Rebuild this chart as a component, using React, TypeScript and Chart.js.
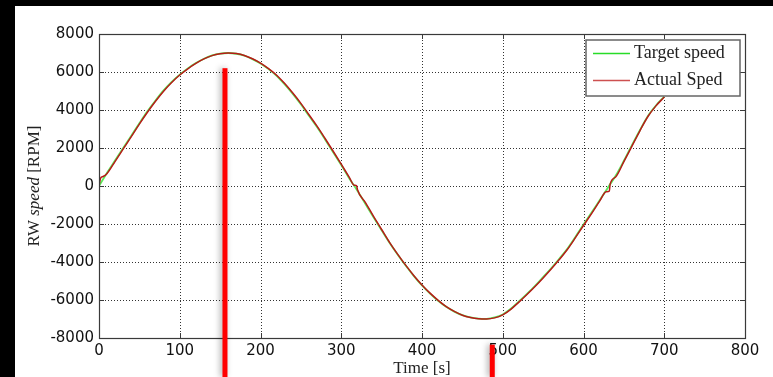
import React, { useEffect, useRef } from "react";
import { Chart, registerables } from "chart.js";

Chart.register(...registerables);

// ---- data ----
const targetTime = [
  0, 10, 20, 30, 40, 50, 60, 70, 80, 90, 100, 110, 120, 130, 140, 150, 160, 170, 180, 190,
  200, 210, 220, 230, 240, 250, 260, 270, 280, 290, 300, 310, 320, 330, 340, 350, 360, 370,
  380, 390, 400, 410, 420, 430, 440, 450, 460, 470, 480, 490, 500, 510, 520, 530, 540, 550,
  560, 570, 580, 590, 600, 610, 620, 630, 640, 650, 660, 670, 680, 690, 700,
];
const targetSpeed = [
  0, 700, 1350, 2000, 2650, 3300, 3930, 4500, 5030, 5480, 5860, 6190, 6470, 6700, 6870, 6970,
  7000, 6960, 6860, 6680, 6450, 6150, 5800, 5350, 4850, 4300, 3700, 3100, 2450, 1780, 1100,
  400, -250, -950, -1650, -2330, -3000, -3620, -4200, -4740, -5230, -5660, -6040, -6360,
  -6610, -6800, -6920, -6980, -6990, -6920, -6760, -6460, -6080, -5680, -5260, -4800, -4330,
  -3830, -3300, -2680, -2030, -1400, -750, -100, 550, 1330, 2150, 2950, 3700, 4250, 4700,
];

const actualTime = [
  0, 2, 5, 10, 20, 30, 40, 50, 60, 70, 80, 90, 100, 110, 120, 130, 140, 150, 160, 170, 180,
  190, 200, 210, 220, 230, 240, 250, 260, 270, 280, 290, 300, 310, 316, 319, 320, 330, 340,
  350, 360, 370, 380, 390, 400, 410, 420, 430, 440, 450, 460, 470, 480, 490, 500, 510, 520,
  530, 540, 550, 560, 570, 580, 590, 600, 610, 620, 628, 632, 633, 640, 650, 660, 670, 680,
  690, 700,
];
const actualSpeed = [
  0, 420, 500, 660, 1300, 1950, 2600, 3260, 3880, 4460, 4990, 5450, 5840, 6170, 6450, 6690,
  6860, 6960, 7000, 6970, 6870, 6700, 6470, 6180, 5830, 5390, 4890, 4350, 3750, 3150, 2500,
  1830, 1150, 450, 40, 20, -180, -870, -1600, -2290, -2980, -3600, -4180, -4720, -5210,
  -5640, -6020, -6350, -6600, -6800, -6920, -6985, -7000, -6940, -6780, -6490, -6110,
  -5710, -5290, -4840, -4370, -3870, -3340, -2720, -2080, -1450, -800, -300, -270, 100, 480,
  1280, 2100, 2920, 3670, 4230, 4680,
];

const markerTime = [156, 487];
const markerTop = [6200, -8350];

const legendLabels = ["Target speed", "Actual Sped"];
const xTitle = "Time [s]";
const yTitleParts: [string, boolean][] = [
  ["RW ", false],
  ["speed", true],
  [" [RPM]", false],
];

const GREEN = "rgb(90,235,90)";
const RED = "rgb(185,25,25)";

const decor = {
  id: "decor",
  beforeDraw(chart: any) {
    const { ctx, width, height } = chart;
    ctx.save();
    ctx.fillStyle = "#ffffff";
    ctx.fillRect(0, 0, width, height);
    ctx.restore();
  },
  beforeDatasetsDraw(chart: any) {
    const { ctx, chartArea: a, scales } = chart;
    const x = scales.x;
    const y = scales.y;
    ctx.save();
    ctx.lineWidth = 1;
    ctx.strokeStyle = "#333";
    ctx.setLineDash([1, 2]);
    x.ticks.forEach((t: any) => {
      const px = Math.round(x.getPixelForValue(t.value)) + 0.5;
      if (px <= a.left + 1 || px >= a.right - 1) return;
      ctx.beginPath();
      ctx.moveTo(px, a.top);
      ctx.lineTo(px, a.bottom);
      ctx.stroke();
    });
    y.ticks.forEach((t: any) => {
      const py = Math.round(y.getPixelForValue(t.value)) + 0.5;
      if (py <= a.top + 1 || py >= a.bottom - 1) return;
      ctx.beginPath();
      ctx.moveTo(a.left, py);
      ctx.lineTo(a.right, py);
      ctx.stroke();
    });
    ctx.restore();
  },
  afterDraw(chart: any) {
    const { ctx, chartArea: a, scales, height } = chart;
    const x = scales.x;
    const y = scales.y;
    ctx.save();
    // box
    ctx.setLineDash([]);
    ctx.strokeStyle = "#3a3a3a";
    ctx.lineWidth = 1.2;
    ctx.strokeRect(a.left + 0.5, a.top + 0.5, a.right - a.left, a.bottom - a.top);
    // inward tick marks
    ctx.lineWidth = 1;
    const tl = 5;
    x.ticks.forEach((t: any) => {
      const px = Math.round(x.getPixelForValue(t.value)) + 0.5;
      ctx.beginPath();
      ctx.moveTo(px, a.bottom);
      ctx.lineTo(px, a.bottom - tl);
      ctx.moveTo(px, a.top);
      ctx.lineTo(px, a.top + tl);
      ctx.stroke();
    });
    y.ticks.forEach((t: any) => {
      const py = Math.round(y.getPixelForValue(t.value)) + 0.5;
      ctx.beginPath();
      ctx.moveTo(a.left, py);
      ctx.lineTo(a.left + tl, py);
      ctx.moveTo(a.right, py);
      ctx.lineTo(a.right - tl, py);
      ctx.stroke();
    });

    // legend
    const lx = a.right - 159;
    const ly = a.top + 6;
    const lw = 154;
    const lh = 56;
    ctx.fillStyle = "#fff";
    ctx.fillRect(lx, ly, lw, lh);
    ctx.strokeStyle = "#666";
    ctx.lineWidth = 1.5;
    ctx.strokeRect(lx, ly, lw, lh);
    ctx.font = "18px 'Liberation Serif'";
    ctx.textBaseline = "middle";
    ctx.textAlign = "left";
    legendLabels.forEach((lab, i) => {
      const cy = ly + 13 + i * 27;
      ctx.strokeStyle = i === 0 ? "rgb(40,220,40)" : "rgb(205,80,80)";
      ctx.lineWidth = 1.3;
      ctx.beginPath();
      ctx.moveTo(lx + 7, cy + 0.5);
      ctx.lineTo(lx + 44, cy + 0.5);
      ctx.stroke();
      ctx.fillStyle = "#222";
      ctx.fillText(lab, lx + 48, cy);
    });

    // x title
    ctx.font = "17px 'Liberation Serif'";
    ctx.fillStyle = "#222";
    ctx.textAlign = "center";
    ctx.textBaseline = "middle";
    ctx.fillText(xTitle, (a.left + a.right) / 2, a.bottom + 31);

    // y title (rotated, mixed style)
    ctx.save();
    ctx.translate(20, (a.top + a.bottom) / 2);
    ctx.rotate(-Math.PI / 2);
    const fonts = yTitleParts.map(([, it]) =>
      (it ? "italic " : "") + "17px 'Liberation Serif'"
    );
    let total = 0;
    const widths = yTitleParts.map(([s], i) => {
      ctx.font = fonts[i];
      const w = ctx.measureText(s).width;
      total += w;
      return w;
    });
    let cx = -total / 2;
    ctx.textAlign = "left";
    yTitleParts.forEach(([s], i) => {
      ctx.font = fonts[i];
      ctx.fillText(s, cx, 0);
      cx += widths[i];
    });
    ctx.restore();

    // red marker bars
    ctx.fillStyle = "#ff0000";
    ctx.shadowColor = "rgba(0,0,0,0.35)";
    ctx.shadowBlur = 6;
    ctx.shadowOffsetX = -2;
    markerTime.forEach((t, i) => {
      const px = x.getPixelForValue(t);
      const top = y.getPixelForValue(markerTop[i]);
      ctx.fillRect(px - 2.5, top, 5, height - top);
    });
    ctx.restore();
  },
};

export default function App() {
  const ref = useRef<HTMLCanvasElement | null>(null);

  useEffect(() => {
    if (!ref.current) return;
    const chart = new Chart(ref.current, {
      type: "line",
      data: {
        datasets: [
          {
            label: legendLabels[0],
            data: targetTime.map((t, i) => ({ x: t, y: targetSpeed[i] })),
            borderColor: GREEN,
            borderWidth: 1.8,
            pointRadius: 0,
            cubicInterpolationMode: "monotone",
            fill: false,
            order: 2,
          },
          {
            label: legendLabels[1],
            data: actualTime.map((t, i) => ({ x: t, y: actualSpeed[i] })),
            borderColor: RED,
            borderWidth: 1.5,
            pointRadius: 0,
            cubicInterpolationMode: "monotone",
            fill: false,
            order: 1,
          },
        ],
      },
      options: {
        responsive: false,
        animation: false,
        devicePixelRatio: 1,
        layout: { padding: { left: 0, top: 28, right: 28, bottom: 0 } },
        plugins: {
          legend: { display: false },
          tooltip: { enabled: false },
          title: { display: false },
        },
        scales: {
          x: {
            type: "linear",
            min: 0,
            max: 800,
            grid: { display: false, drawTicks: false },
            border: { display: false },
            ticks: {
              stepSize: 100,
              padding: 4,
              color: "#111",
              font: { family: "DejaVu Sans", size: 15 },
              maxRotation: 0,
              callback: (v: any) => String(v),
            },
            afterFit: (s: any) => {
              s.height = 39;
            },
          },
          y: {
            type: "linear",
            min: -8000,
            max: 8000,
            grid: { display: false, drawTicks: false },
            border: { display: false },
            ticks: {
              stepSize: 2000,
              padding: 5,
              color: "#111",
              font: { family: "DejaVu Sans", size: 15 },
              callback: (v: any) => String(v),
            },
            afterFit: (s: any) => {
              s.width = 84;
            },
          },
        },
      },
      plugins: [decor],
    });
    return () => chart.destroy();
  }, []);

  return (
    <div
      style={{
        position: "fixed",
        left: 0,
        top: 0,
        width: 773,
        height: 377,
        background: "#000",
        overflow: "hidden",
      }}
    >
      <canvas
        ref={ref}
        width={758}
        height={371}
        style={{ position: "absolute", left: 15, top: 6, width: 758, height: 371 }}
      />
    </div>
  );
}
